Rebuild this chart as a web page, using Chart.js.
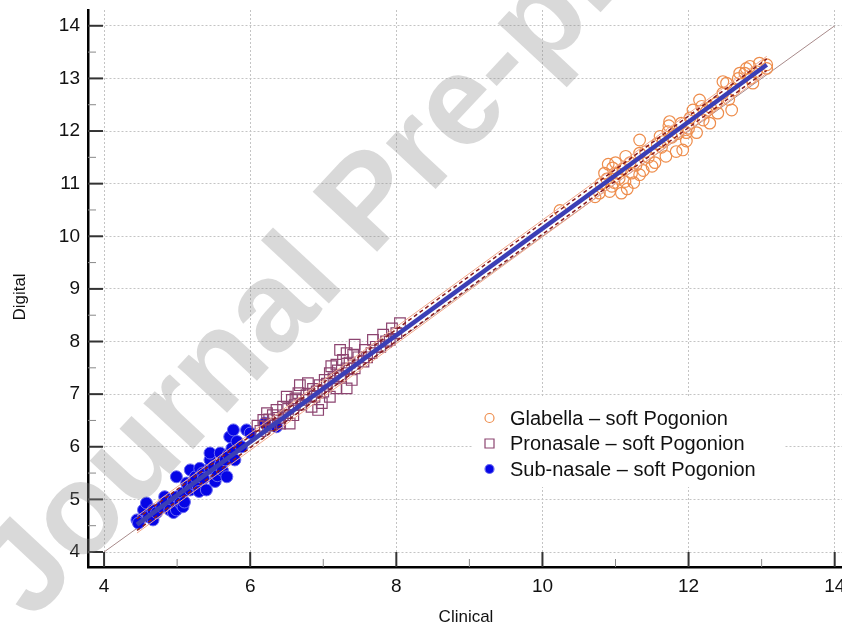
<!DOCTYPE html>
<html>
<head>
<meta charset="utf-8">
<script src="https://cdn.jsdelivr.net/npm/chart.js@4.4.0/dist/chart.umd.min.js"></script>
<style>
  html, body { margin: 0; padding: 0; background: #fff; }
  #wrap { width: 842px; height: 628px; }
</style>
</head>
<body>
<div id="wrap"><canvas id="chart" width="842" height="628"></canvas></div>
<script>
// axis ticks
const xTicks = [4, 6, 8, 10, 12, 14];
const xMinorTicks = [5, 7, 9, 11, 13];
const yTicks = [4, 5, 6, 7, 8, 9, 10, 11, 12, 13, 14];
const yMinorTicks = [4.5, 5.5, 6.5, 7.5, 8.5, 9.5, 10.5, 11.5, 12.5, 13.5];

const seriesLabels = [
  'Glabella \u2013 soft Pogonion',
  'Pronasale \u2013 soft Pogonion',
  'Sub-nasale \u2013 soft Pogonion'
];

// Glabella – soft Pogonion (Clinical, Digital)
const glabellaX = [10.24, 10.72, 10.78, 10.80, 10.85, 10.88, 10.90, 10.92, 10.95, 10.96, 10.98, 11.00, 11.02, 11.05,
  11.08, 11.10, 11.13, 11.16, 11.14, 11.20, 11.22, 11.25, 11.28, 11.33, 11.33, 11.33, 11.38, 11.41, 11.45,
  11.50, 11.54, 11.57, 11.61, 11.63, 11.65, 11.69, 11.72, 11.73, 11.74, 11.77, 11.83, 11.85, 11.90, 11.92,
  11.97, 11.97, 12.00, 12.02, 12.06, 12.11, 12.15, 12.18, 12.20, 12.24, 12.29, 12.30, 12.38, 12.40, 12.47,
  12.47, 12.52, 12.55, 12.59, 12.62, 12.68, 12.70, 12.77, 12.79, 12.84, 12.85, 12.88, 12.93, 12.97, 13.07, 13.07];
const glabellaY = [10.49, 10.75, 10.82, 11.00, 11.20, 11.09, 11.37, 10.85, 10.95, 11.30, 11.02, 11.40, 11.20, 11.10,
  10.82, 11.28, 11.04, 10.90, 11.52, 11.40, 11.20, 11.02, 11.35, 11.17, 11.58, 11.83, 11.25, 11.61, 11.50,
  11.33, 11.40, 11.76, 11.90, 11.69, 11.80, 11.52, 11.99, 12.10, 12.18, 11.88, 11.61, 11.95, 12.15, 11.64,
  11.81, 11.97, 12.05, 12.25, 12.40, 11.97, 12.59, 12.47, 12.21, 12.37, 12.15, 12.45, 12.53, 12.34, 12.72,
  12.94, 12.91, 12.60, 12.40, 12.78, 13.00, 13.10, 13.10, 13.19, 13.23, 13.00, 12.91, 13.13, 13.29, 13.19, 13.26];

// Pronasale – soft Pogonion
const pronasaleX = [6.10, 6.14, 6.18, 6.20, 6.23, 6.26, 6.29, 6.31, 6.36, 6.38, 6.41, 6.45, 6.48, 6.50, 6.52,
  6.54, 6.57, 6.59, 6.61, 6.62, 6.66, 6.68, 6.70, 6.72, 6.77, 6.79, 6.84, 6.86, 6.88, 6.91, 6.93, 6.95,
  6.98, 7.00, 7.02, 7.05, 7.09, 7.09, 7.11, 7.14, 7.18, 7.18, 7.20, 7.23, 7.23, 7.27, 7.32, 7.32, 7.32,
  7.36, 7.39, 7.41, 7.43, 7.43, 7.48, 7.55, 7.57, 7.60, 7.66, 7.68, 7.72, 7.78, 7.82, 7.86, 7.91, 7.94,
  8.00, 8.05];
const pronasaleY = [6.40, 6.30, 6.51, 6.38, 6.64, 6.52, 6.41, 6.60, 6.70, 6.55, 6.44, 6.76, 6.60, 6.95, 6.72,
  6.44, 6.89, 6.60, 6.79, 6.92, 7.02, 7.17, 6.80, 6.89, 6.98, 7.21, 6.76, 7.10, 6.95, 7.05, 6.70, 7.17,
  6.83, 7.05, 7.27, 7.20, 7.40, 6.95, 7.53, 7.30, 7.56, 7.11, 7.45, 7.34, 7.84, 7.65, 7.49, 7.11, 7.78,
  7.60, 7.27, 7.75, 7.94, 7.49, 7.70, 7.62, 7.84, 7.70, 7.78, 8.03, 7.90, 7.90, 8.13, 8.00, 8.03, 8.25,
  8.16, 8.35];

// Sub-nasale – soft Pogonion
const subnasaleX = [4.45, 4.47, 4.54, 4.58, 4.61, 4.67, 4.67, 4.72, 4.79, 4.83, 4.85, 4.90, 4.95, 4.95, 4.99,
  4.99, 5.00, 5.04, 5.08, 5.08, 5.10, 5.13, 5.15, 5.18, 5.18, 5.22, 5.25, 5.29, 5.30, 5.31, 5.35, 5.36,
  5.40, 5.45, 5.45, 5.45, 5.50, 5.52, 5.55, 5.59, 5.59, 5.62, 5.66, 5.68, 5.70, 5.72, 5.75, 5.77, 5.79,
  5.82, 5.88, 5.95, 6.00, 6.20, 6.36];
const subnasaleY = [4.61, 4.55, 4.80, 4.93, 4.67, 4.61, 4.80, 4.75, 4.86, 5.05, 4.95, 4.80, 4.99, 4.75, 4.80,
  5.43, 5.05, 4.93, 4.86, 5.12, 4.95, 5.31, 5.25, 5.18, 5.56, 5.30, 5.43, 5.21, 5.15, 5.59, 5.50, 5.40,
  5.18, 5.59, 5.75, 5.88, 5.62, 5.34, 5.45, 5.65, 5.88, 5.55, 5.75, 5.43, 5.85, 6.19, 5.97, 6.32, 5.75,
  6.10, 6.00, 6.32, 6.26, 6.45, 6.38];

// fitted line with confidence band, and line of identity
const fitX = [4.45, 13.07];
const fitY = [4.52, 13.26];
const ciUpperY = [4.63, 13.37];
const ciLowerY = [4.41, 13.15];
const bandUpperY = [4.68, 13.42];
const bandLowerY = [4.36, 13.10];
const identityX = [4, 14];
const identityY = [4, 14];

const toPoints = (xs, ys) => xs.map((x, i) => ({ x: x, y: ys[i] }));

const FONT = '"Liberation Sans", Arial, sans-serif';

// inward tick marks (major + minor)
const innerTicks = {
  id: 'innerTicks',
  afterDraw(chart) {
    const { ctx, chartArea, scales } = chart;
    ctx.save();
    const mark = (vals, len, width, color, horiz) => {
      ctx.lineWidth = width;
      ctx.strokeStyle = color;
      vals.forEach(v => {
        ctx.beginPath();
        if (horiz) {
          const px = scales.x.getPixelForValue(v);
          ctx.moveTo(px, chartArea.bottom);
          ctx.lineTo(px, chartArea.bottom - len);
        } else {
          const py = scales.y.getPixelForValue(v);
          ctx.moveTo(chartArea.left, py);
          ctx.lineTo(chartArea.left + len, py);
        }
        ctx.stroke();
      });
    };
    mark(yMinorTicks, 8, 1, '#888', false);
    mark(xMinorTicks, 8, 1, '#888', true);
    mark(yTicks, 15, 2, '#333', false);
    mark(xTicks, 15, 2, '#333', true);
    ctx.restore();
  }
};

// legend box inside plot
const insideLegend = {
  id: 'insideLegend',
  afterDatasetsDraw(chart) {
    const { ctx } = chart;
    ctx.save();
    ctx.fillStyle = '#fff';
    ctx.fillRect(473, 397, 312, 90);
    const rows = [418, 443.5, 469];
    ctx.font = '20px ' + FONT;
    ctx.textBaseline = 'middle';
    ctx.textAlign = 'left';
    for (let i = 0; i < 3; i++) {
      const ds = chart.data.datasets[i];
      const y = rows[i];
      ctx.lineWidth = 1.2;
      ctx.strokeStyle = ds.borderColor;
      ctx.fillStyle = ds.backgroundColor;
      ctx.beginPath();
      if (ds.pointStyle === 'rect') {
        ctx.rect(489.5 - 4.5, y - 4.5, 9, 9);
      } else {
        ctx.arc(489.5, y, 4.5, 0, Math.PI * 2);
      }
      ctx.fill();
      ctx.stroke();
      ctx.fillStyle = '#111';
      ctx.fillText(ds.label, 510, y + 1);
    }
    ctx.restore();
  }
};

const axisTitles = {
  id: 'axisTitles',
  afterDraw(chart) {
    const { ctx } = chart;
    ctx.save();
    ctx.fillStyle = '#111';
    ctx.font = '17px ' + FONT;
    ctx.textAlign = 'center';
    ctx.textBaseline = 'middle';
    ctx.fillText('Clinical', 466, 617);
    ctx.translate(20, 297);
    ctx.rotate(-Math.PI / 2);
    ctx.fillText('Digital', 0, 0);
    ctx.restore();
  }
};

const watermark = {
  id: 'watermark',
  afterDraw(chart) {
    const { ctx } = chart;
    ctx.save();
    ctx.translate(6, 598);
    ctx.rotate(-47 * Math.PI / 180);
    ctx.font = 'bold 128px ' + FONT;
    ctx.textBaseline = 'middle';
    ctx.fillStyle = 'rgba(140, 140, 140, 0.33)';
    ctx.fillText('Journal Pre-proof', 0, 0);
    ctx.restore();
  }
};

const lineSet = (label, ys, color, width, dash) => ({
  label: label,
  data: toPoints(fitX, ys),
  showLine: true,
  pointRadius: 0,
  borderColor: color,
  borderWidth: width,
  borderDash: dash,
  backgroundColor: color,
  order: 0
});

new Chart(document.getElementById('chart'), {
  type: 'scatter',
  data: {
    datasets: [
      {
        label: seriesLabels[0],
        data: toPoints(glabellaX, glabellaY),
        pointStyle: 'circle',
        pointRadius: 5.8,
        borderWidth: 1.2,
        borderColor: '#ee8d4c',
        backgroundColor: 'rgba(255,255,255,0)',
        order: 1
      },
      {
        label: seriesLabels[1],
        data: toPoints(pronasaleX, pronasaleY),
        pointStyle: 'rect',
        pointRadius: 7.5,
        borderWidth: 1.2,
        borderColor: '#8c4470',
        backgroundColor: 'rgba(255,255,255,0)',
        order: 1
      },
      {
        label: seriesLabels[2],
        data: toPoints(subnasaleX, subnasaleY),
        pointStyle: 'circle',
        pointRadius: 6,
        borderWidth: 1,
        borderColor: '#6b6bf0',
        backgroundColor: '#0505e6',
        order: 1
      },
      {
        label: 'identity',
        data: toPoints(identityX, identityY),
        showLine: true,
        pointRadius: 0,
        borderColor: '#a88a8a',
        borderWidth: 1,
        order: 2
      },
      lineSet('band upper', bandUpperY, '#f2a88a', 1, []),
      lineSet('band lower', bandLowerY, '#f2a88a', 1, []),
      lineSet('ci upper', ciUpperY, '#8b1c1c', 1.5, [4, 3]),
      lineSet('ci lower', ciLowerY, '#8b1c1c', 1.5, [4, 3]),
      lineSet('fit', fitY, '#3b3fb5', 4.5, [])
    ]
  },
  options: {
    responsive: false,
    animation: false,
    events: [],
    layout: { autoPadding: false, padding: { top: 10, right: 0, left: 0, bottom: 0 } },
    plugins: {
      legend: { display: false },
      tooltip: { enabled: false }
    },
    scales: {
      x: {
        type: 'linear',
        min: 3.78,
        max: 14.1,
        afterBuildTicks: s => { s.ticks = xTicks.map(v => ({ value: v })); },
        afterFit: s => { s.height = 61; s.paddingLeft = 0; s.paddingRight = 0; },
        grid: { color: '#c4c4c4', lineWidth: 1, drawTicks: false },
        border: { color: '#000', width: 2.5, dash: [2, 2] },
        ticks: { color: '#111', padding: 8, font: { size: 19, family: FONT }, maxRotation: 0 }
      },
      y: {
        type: 'linear',
        min: 3.715,
        max: 14.3,
        afterBuildTicks: s => { s.ticks = yTicks.map(v => ({ value: v })); },
        afterFit: s => { s.width = 88; s.paddingTop = 0; s.paddingBottom = 0; },
        grid: { color: '#c4c4c4', lineWidth: 1, drawTicks: false },
        border: { color: '#000', width: 2.5, dash: [2, 2] },
        ticks: { color: '#111', padding: 8, font: { size: 19, family: FONT } }
      }
    }
  },
  plugins: [insideLegend, innerTicks, axisTitles, watermark]
});
</script>
</body>
</html>
